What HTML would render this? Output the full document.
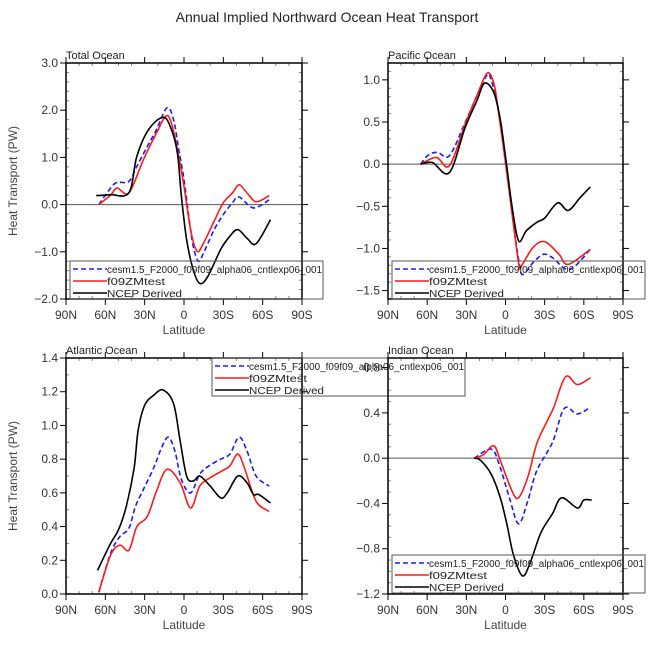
<!DOCTYPE html>
<html><head><meta charset="utf-8"><style>
body{margin:0;background:#fff}
svg{display:block;font-family:"Liberation Sans","DejaVu Sans",sans-serif}
</style></head><body>
<svg id="fig" width="654" height="654" viewBox="0 0 654 654">
<text x="327" y="22" text-anchor="middle" font-size="14" fill="#222">Annual Implied Northward Ocean Heat Transport</text>
</svg>
<script>
// ---- data (latitude in degrees, N positive) ----
const totLatB=[65,56,51,42,36,28,21,13,8,4,0,-4,-7,-11,-15,-23,-30,-37,-42,-53,-65];
const totValB=[0,0.35,0.47,0.49,0.81,1.23,1.59,2.05,1.8,1.16,0.53,-0.32,-0.88,-1.2,-1.02,-0.53,-0.21,0.04,0.16,-0.07,0.1];
const totLatR=[65,56,51,42,31,21,14,10,5,0,-5,-10,-15,-23,-30,-37,-42,-48,-55,-65];
const totValR=[0,0.2,0.35,0.25,0.95,1.52,1.87,1.76,1.16,0.39,-0.53,-0.99,-0.81,-0.35,0.04,0.25,0.42,0.25,0.06,0.19];
const totLatK=[67,56,42,36,27,16,10,5,2,-2,-7,-12,-18,-28,-35,-41,-48,-55,-66];
const totValK=[0.19,0.21,0.25,1.02,1.59,1.85,1.62,1.09,0.18,-0.74,-1.38,-1.67,-1.53,-0.95,-0.67,-0.53,-0.71,-0.83,-0.32];

const pacLatB=[65,59,52,43,31,22,14,11,6,0,-5,-10,-13,-21,-29,-36,-49,-65];
const pacValB=[0,0.11,0.14,0.1,0.49,0.81,1.06,1.0,0.69,0.02,-0.58,-1.13,-1.31,-1.17,-1.07,-1.11,-1.25,-1.01];
const pacLatR=[65,53,43,31,22,14,9,6,0,-5,-10,-12,-21,-30,-41,-48,-65];
const pacValR=[0,0.08,-0.02,0.47,0.81,1.08,0.96,0.69,0.02,-0.58,-1.17,-1.21,-0.99,-0.92,-1.07,-1.19,-1.01];
const pacLatK=[65,56,43,31,22,16,9,4,0,-5,-10,-16,-24,-30,-40,-48,-57,-65];
const pacValK=[0,0.02,-0.1,0.43,0.75,0.96,0.85,0.53,0.09,-0.5,-0.91,-0.79,-0.69,-0.64,-0.46,-0.55,-0.4,-0.27];

const atlLatK=[66,56,50,44,38,35,30,23,16,8,3,-2,-7,-12,-20,-28,-33,-41,-48,-53,-57,-66];
const atlValK=[0.14,0.3,0.38,0.52,0.75,0.97,1.12,1.18,1.21,1.13,0.91,0.7,0.67,0.7,0.64,0.57,0.6,0.7,0.66,0.59,0.59,0.54];
const atlLatB=[65,56,49,42,37,31,23,17,12,7,2,-5,-12,-19,-28,-35,-42,-48,-55,-65];
const atlValB=[0.01,0.24,0.34,0.39,0.52,0.62,0.75,0.87,0.93,0.85,0.68,0.6,0.71,0.76,0.8,0.83,0.93,0.85,0.7,0.64];
const atlLatR=[65,56,49,42,36,28,21,13,3,-5,-12,-20,-29,-35,-41,-46,-55,-65];
const atlValR=[0.01,0.23,0.29,0.26,0.4,0.46,0.61,0.74,0.66,0.51,0.64,0.69,0.73,0.76,0.83,0.75,0.55,0.49];

const indLatR=[24,17,9,4,-5,-10,-17,-24,-32,-37,-46,-55,-65];
const indValR=[0,0.03,0.11,-0.02,-0.29,-0.35,-0.17,0.13,0.33,0.45,0.72,0.65,0.71];
const indLatB=[24,11,5,-3,-10,-17,-24,-36,-45,-55,-65];
const indValB=[0,0.08,-0.05,-0.35,-0.58,-0.38,-0.11,0.14,0.44,0.39,0.45];
const indLatK=[24,19,11,4,-1,-6,-13,-19,-27,-36,-43,-55,-60,-66];
const indValK=[0,-0.02,-0.14,-0.35,-0.58,-0.85,-1.04,-0.92,-0.66,-0.49,-0.35,-0.44,-0.37,-0.37];

const xTickLabels=["90N","60N","30N","0","30S","60S","90S"];
const seriesNames=["cesm1.5_F2000_f09f09_alpha06_cntlexp06_001","f09ZMtest","NCEP Derived"];
const nameWidths=[215,58,75];

const NS="http://www.w3.org/2000/svg";
const svg=document.getElementById('fig');
function mk(tag,attrs,parent){const e=document.createElementNS(NS,tag);for(const k in attrs)e.setAttribute(k,attrs[k]);(parent||svg).appendChild(e);return e;}

function smooth(pts){
  let d="M"+pts[0][0].toFixed(1)+","+pts[0][1].toFixed(1);
  for(let i=0;i<pts.length-1;i++){
    const p0=pts[Math.max(0,i-1)],p1=pts[i],p2=pts[i+1],p3=pts[Math.min(pts.length-1,i+2)];
    const c1=[p1[0]+(p2[0]-p0[0])/6,p1[1]+(p2[1]-p0[1])/6];
    const c2=[p2[0]-(p3[0]-p1[0])/6,p2[1]-(p3[1]-p1[1])/6];
    d+=" C"+c1[0].toFixed(1)+","+c1[1].toFixed(1)+" "+c2[0].toFixed(1)+","+c2[1].toFixed(1)+" "+p2[0].toFixed(1)+","+p2[1].toFixed(1);
  }
  return d;
}

function panel(cfg){
  const g=mk('g',{});
  
  
  const {x0,x1,y0,y1,ymin,ymax}=cfg;
  const X=lat=>x0+(90-lat)/180*(x1-x0);
  const Y=v=>y1-(v-ymin)/(ymax-ymin)*(y1-y0);
  const t=mk('text',{x:x0,y:y0-4,'font-size':11,fill:'#222'},g);t.textContent=cfg.title;
  
  
  if(ymin<0&&ymax>0){const z=mk('line',{x1:x0,x2:x1,y1:Y(0),y2:Y(0),stroke:'#555','stroke-width':1},g);
    
    }
  for(let lat=90;lat>=-90;lat-=10){
    const x=X(lat);
    if(lat%30===0){
      mk('line',{x1:x,x2:x,y1:y1,y2:y1+6,stroke:'#000','stroke-width':1},g);
      mk('line',{x1:x,x2:x,y1:y0,y2:y0-6,stroke:'#000','stroke-width':1},g);
    } else {
      mk('line',{x1:x,x2:x,y1:y1,y2:y1-3,stroke:'#888','stroke-width':1},g);
      mk('line',{x1:x,x2:x,y1:y0,y2:y0+3,stroke:'#888','stroke-width':1},g);
    }
  }
  xTickLabels.forEach((lb,i)=>{
    const tx=mk('text',{x:X(90-30*i),y:y1+20,'text-anchor':'middle','font-size':12,fill:'#333'},g);
    tx.textContent=lb;
    
    
  });
  const ms=cfg.ystep/cfg.yminor;
  for(let k=Math.ceil(ymin/ms-1e-6);k*ms<=ymax+1e-6;k++){
    const v=k*ms,y=Y(v);
    if(k%cfg.yminor===0){
      mk('line',{x1:x0,x2:x0-6,y1:y,y2:y,stroke:'#000','stroke-width':1},g);
      mk('line',{x1:x1,x2:x1+6,y1:y,y2:y,stroke:'#000','stroke-width':1},g);
      const ty=mk('text',{x:x0-8,y:y+4,'text-anchor':'end','font-size':12,fill:'#333'},g);
      ty.textContent=(v<-1e-9?'\u2212':'')+Math.abs(v).toFixed(1);
      
      
    } else {
      mk('line',{x1:x0,x2:x0+3,y1:y,y2:y,stroke:'#888','stroke-width':1},g);
      mk('line',{x1:x1,x2:x1-3,y1:y,y2:y,stroke:'#888','stroke-width':1},g);
    }
  }
  mk('rect',{x:x0,y:y0,width:x1-x0,height:y1-y0,fill:'none',stroke:'#000','stroke-width':1.5},g);
  const cols=['#1a1aff','#ff1a1a','#000'];
  cfg.series.forEach((s,i)=>{
    const pts=s[0].map((lat,j)=>[X(lat),Y(s[1][j])]);
    const p=mk('path',{d:smooth(pts),fill:'none',stroke:cols[i],'stroke-width':1.6},g);
    if(i===0)p.setAttribute('stroke-dasharray','5,3');
    
    
  });
  const xl=mk('text',{x:(x0+x1)/2,y:y1+35,'text-anchor':'middle','font-size':12,fill:'#444'},g);
  xl.textContent='Latitude';
  
  
  if(cfg.ylabel){
    const cy=(y0+y1)/2;
    const yl=mk('text',{x:17,y:cy,'text-anchor':'middle','font-size':12,fill:'#444',transform:'rotate(-90 17 '+cy+')'},g);
    yl.textContent='Heat Transport (PW)';
    
    
  }
  const L=cfg.legend;
  const lg=mk('g',{},svg);
  
  
  mk('rect',{x:L[0],y:L[1],width:253,height:38,fill:'none',stroke:'#555','stroke-width':1},lg);
  seriesNames.forEach((nm,i)=>{
    const yy=L[1]+8+i*12;
    const ln=mk('line',{x1:L[0]+3,x2:L[0]+37,y1:yy,y2:yy,stroke:cols[i],'stroke-width':1.5},lg);
    if(i===0)ln.setAttribute('stroke-dasharray','5,3');
    const tx=mk('text',{x:L[0]+37,y:yy+4,'font-size':10,fill:'#222',textLength:nameWidths[i],lengthAdjust:'spacingAndGlyphs'},lg);
    tx.textContent=nm;
    
    
  });
}

panel({name:'total-ocean-panel',title:'Total Ocean',x0:66,x1:302,y0:63,y1:299,ymin:-2,ymax:3,ystep:1,yminor:5,ylabel:true,
  series:[[totLatB,totValB],[totLatR,totValR],[totLatK,totValK]],legend:[70,261]});
panel({name:'pacific-ocean-panel',title:'Pacific Ocean',x0:388,x1:623,y0:63,y1:299,ymin:-1.6,ymax:1.2,ystep:0.5,yminor:5,ylabel:false,
  series:[[pacLatB,pacValB],[pacLatR,pacValR],[pacLatK,pacValK]],legend:[392,261]});
panel({name:'atlantic-ocean-panel',title:'Atlantic Ocean',x0:66,x1:302,y0:358,y1:594,ymin:0,ymax:1.4,ystep:0.2,yminor:2,ylabel:true,
  series:[[atlLatB,atlValB],[atlLatR,atlValR],[atlLatK,atlValK]],legend:[212,358]});
panel({name:'indian-ocean-panel',title:'Indian Ocean',x0:388,x1:623,y0:358,y1:594,ymin:-1.2,ymax:0.885,ystep:0.4,yminor:4,ylabel:false,
  series:[[indLatB,indValB],[indLatR,indValR],[indLatK,indValK]],legend:[392,555]});
</script>
</body></html>
